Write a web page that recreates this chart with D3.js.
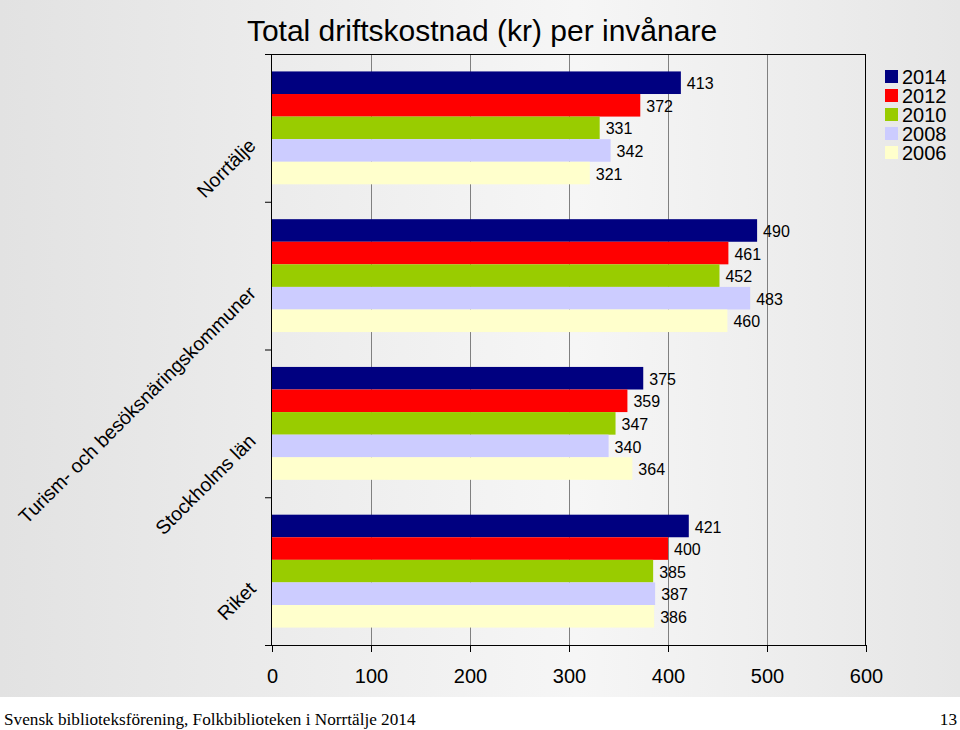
<!DOCTYPE html>
<html><head><meta charset="utf-8">
<script src="https://cdn.jsdelivr.net/npm/d3@7"></script>
<style>body{margin:0;padding:0;background:#fff}svg{display:block}</style>
</head><body>
<svg id="chart" width="960" height="730"></svg>
<script>
const categories = ["Norrtälje", "Turism- och besöksnäringskommuner", "Stockholms län", "Riket"];
const years = ["2014", "2012", "2010", "2008", "2006"];
const colors = ["#000080", "#ff0000", "#99cc00", "#ccccff", "#ffffcc"];
const v2014 = [413, 490, 375, 421];
const v2012 = [372, 461, 359, 400];
const v2010 = [331, 452, 347, 385];
const v2008 = [342, 483, 340, 387];
const v2006 = [321, 460, 364, 386];
const xTicks = [0, 100, 200, 300, 400, 500, 600];
const title = "Total driftskostnad (kr) per invånare";
const footer = "Svensk biblioteksförening, Folkbiblioteken i Norrtälje 2014";
const pageNo = "13";

(function () {
const series = [v2014, v2012, v2010, v2008, v2006];
const svg = d3.select("#chart");
const W = 960, H = 730;
const font = "Arial, 'Liberation Sans', sans-serif";

const defs = svg.append("defs");
const g1 = defs.append("linearGradient").attr("id", "bg").attr("x1", "0").attr("x2", "1").attr("y1", "0").attr("y2", "0");
g1.append("stop").attr("offset", "0").attr("stop-color", "#e2e2e2");
g1.append("stop").attr("offset", "0.6").attr("stop-color", "#f6f6f6");
g1.append("stop").attr("offset", "1").attr("stop-color", "#e6e6e6");

svg.append("rect").attr("width", W).attr("height", 697).attr("fill", "url(#bg)");
svg.append("rect").attr("y", 697).attr("width", W).attr("height", 33).attr("fill", "#fff");

const pL = 272, pR = 866, pT = 54, pB = 645;
const x = d3.scaleLinear().domain([0, 600]).range([pL, pR]);
const y0 = d3.scaleBand().domain(categories).range([pT, pB]).paddingInner(0.236).paddingOuter(0.118);
const y1 = d3.scaleBand().domain(years).range([0, y0.bandwidth()]);
const yOuter = d3.scaleBand().domain(categories).range([pT, pB]);

// gridlines
svg.append("g").selectAll("line").data(xTicks.slice(1, -1)).join("line")
  .attr("x1", d => x(d) + 0.5).attr("x2", d => x(d) + 0.5)
  .attr("y1", pT).attr("y2", pB)
  .attr("stroke", "#808080").attr("stroke-width", 1);

// bars
const groups = svg.append("g").selectAll("g").data(categories).join("g")
  .attr("transform", c => `translate(0,${y0(c)})`);
groups.each(function (c, ci) {
  const g = d3.select(this);
  years.forEach((yr, si) => {
    const v = series[si][ci];
    g.append("rect").attr("x", x(0)).attr("y", y1(yr))
      .attr("width", x(v) - x(0)).attr("height", y1.bandwidth())
      .attr("fill", colors[si]);
  });
  years.forEach((yr, si) => {
    const v = series[si][ci];
    g.append("text").attr("x", x(v) + 6).attr("y", y1(yr) + y1.bandwidth() / 2 + 1)
      .attr("dy", "0.35em").attr("font-family", font).attr("font-size", 16)
      .attr("fill", "#000").text(v);
  });
});

// frame top & right
svg.append("line").attr("x1", pL).attr("x2", pR).attr("y1", pT + 0.5).attr("y2", pT + 0.5).attr("stroke", "#000");
svg.append("line").attr("x1", pR - 0.5).attr("x2", pR - 0.5).attr("y1", pT).attr("y2", pB).attr("stroke", "#000");

// x axis
const xAxis = svg.append("g").attr("transform", `translate(0,${pB})`)
  .call(d3.axisBottom(x).tickValues(xTicks).tickSize(7).tickPadding(17));
xAxis.selectAll("text").attr("font-family", font).attr("font-size", 20).attr("fill", "#000");
xAxis.selectAll("line").attr("stroke", "#000");
xAxis.select(".domain").attr("stroke", "#000").attr("d", `M${pL},0.5H${pR}`);

// y axis
const yAxis = svg.append("g").attr("transform", `translate(${pL},0)`)
  .call(d3.axisLeft(yOuter).tickSize(0).tickFormat(""));
yAxis.select(".domain").attr("stroke", "#000").attr("d", `M-0.5,${pT}V${pB}`);
const boundaries = [pT].concat(categories.map(c => yOuter(c) + yOuter.bandwidth()));
svg.append("g").selectAll("line").data(boundaries).join("line")
  .attr("x1", pL - 7).attr("x2", pL).attr("y1", d => d + 0.5).attr("y2", d => d + 0.5).attr("stroke", "#000");

// category labels
svg.append("g").selectAll("text").data(categories).join("text")
  .attr("transform", c => `translate(257,${yOuter(c) + yOuter.bandwidth() / 2 + 19}) rotate(-45)`)
  .attr("text-anchor", "end").attr("font-family", font).attr("font-size", 19.5).attr("fill", "#000")
  .text(c => c);

// title
svg.append("text").attr("x", 482).attr("y", 41).attr("text-anchor", "middle")
  .attr("font-family", font).attr("font-size", 30).attr("fill", "#000").text(title);

// legend
const leg = svg.append("g").attr("transform", "translate(885,70)");
years.forEach((yr, i) => {
  leg.append("rect").attr("x", 0).attr("y", i * 19).attr("width", 13).attr("height", 13).attr("fill", colors[i]);
  leg.append("text").attr("x", 17).attr("y", i * 19 + 6.5).attr("dy", "0.36em")
    .attr("font-family", font).attr("font-size", 20).attr("fill", "#000").text(yr);
});

// footer
svg.append("text").attr("x", 4).attr("y", 725).attr("font-family", "'Liberation Serif', 'Times New Roman', serif")
  .attr("font-size", 17.2).attr("fill", "#000").text(footer);
svg.append("text").attr("x", 957).attr("y", 725).attr("text-anchor", "end")
  .attr("font-family", "'Liberation Serif', 'Times New Roman', serif")
  .attr("font-size", 17.2).attr("fill", "#000").text(pageNo);
})();
</script>
</body></html>
